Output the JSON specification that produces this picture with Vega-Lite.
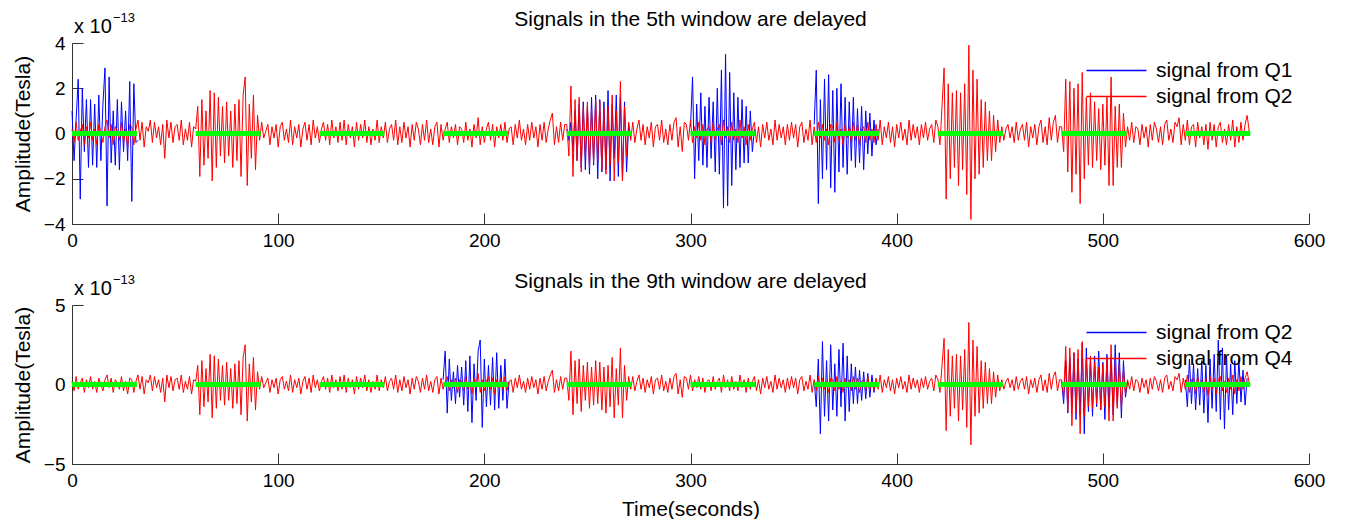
{
"$schema":"https://vega.github.io/schema/vega-lite/v6.json",
"background":"white",
"padding":{"left":12,"top":9,"right":0,"bottom":0},
"spacing":21,
"config":{
 "font":"Liberation Sans",
 "view":{"stroke":null},
 "axis":{"grid":false,"domainColor":"#333333","tickColor":"#333333","labelColor":"#000","labelFontSize":19,"titleFontSize":21,"titleFontWeight":"normal","titleColor":"#000","tickSize":-11,"labelPadding":18,"labelFlush":false,"labelOverlap":false},
 "axisY":{"titlePadding":10},
 "axisX":{"titlePadding":8},
 "title":{"fontSize":21,"fontWeight":"normal","color":"#000","offset":-18}
},
"resolve":{"scale":{"color":"independent","y":"independent"},"legend":{"color":"independent"}},
"datasets":{
"win":[{"s":0,"e":31.5},{"s":60,"e":91.5},{"s":120,"e":151.5},{"s":180,"e":211.5},{"s":240,"e":271.5},{"s":300,"e":331.5},{"s":360,"e":391.5},{"s":420,"e":451.5},{"s":480,"e":511.5},{"s":540,"e":571.5}],
"blue1":[
{"t":0,"a":1.0},{"t":1,"a":-1.2},{"t":2,"a":0.6},{"t":3,"a":2.4},{"t":4,"a":-2.9},{"t":5,"a":2.0},{"t":6,"a":-0.8},{"t":7,"a":1.5},{"t":8,"a":-1.5},{"t":9,"a":1.5},{"t":10,"a":-1.4},{"t":11,"a":1.3},{"t":12,"a":-1.5},{"t":13,"a":1.7},{"t":14,"a":-1.2},{"t":15,"a":1.3},{"t":16,"a":2.9},{"t":17,"a":-3.2},{"t":18,"a":2.5},{"t":19,"a":-1.3},{"t":20,"a":1.0},{"t":21,"a":-1.4},{"t":22,"a":1.5},{"t":23,"a":-1.6},{"t":24,"a":1.4},{"t":25,"a":-0.8},{"t":26,"a":1.0},{"t":27,"a":-1.2},{"t":28,"a":2.3},{"t":29,"a":-3.0},{"t":30,"a":2.2},{"t":31,"a":-0.4},{"t":32,"a":-0.3},{"t":100,"a":null},
{"t":240,"a":0.2},{"t":241,"a":-0.3},{"t":242,"a":0.5},{"t":243,"a":-0.8},{"t":244,"a":1.0},{"t":245,"a":-1.2},{"t":246,"a":1.3},{"t":247,"a":-1.5},{"t":248,"a":1.4},{"t":249,"a":-1.6},{"t":250,"a":1.2},{"t":251,"a":-1.8},{"t":252,"a":1.6},{"t":253,"a":-1.4},{"t":254,"a":1.7},{"t":255,"a":-2.0},{"t":256,"a":1.5},{"t":257,"a":-1.7},{"t":258,"a":1.4},{"t":259,"a":-1.6},{"t":260,"a":1.9},{"t":261,"a":-2.1},{"t":262,"a":1.3},{"t":263,"a":-1.1},{"t":264,"a":1.7},{"t":265,"a":-1.9},{"t":266,"a":1.6},{"t":267,"a":-2.0},{"t":268,"a":1.4},{"t":269,"a":-1.7},{"t":270,"a":0.4},{"t":271,"a":-0.2},{"t":285,"a":null},
{"t":300,"a":0.3},{"t":301,"a":2.5},{"t":302,"a":-2.0},{"t":303,"a":1.3},{"t":304,"a":-1.2},{"t":305,"a":1.8},{"t":306,"a":-1.4},{"t":307,"a":1.2},{"t":308,"a":-1.5},{"t":309,"a":1.6},{"t":310,"a":-1.1},{"t":311,"a":1.4},{"t":312,"a":-1.7},{"t":313,"a":2.0},{"t":314,"a":-1.8},{"t":315,"a":2.8},{"t":316,"a":-3.3},{"t":317,"a":3.5},{"t":318,"a":-3.2},{"t":319,"a":2.7},{"t":320,"a":-2.3},{"t":321,"a":1.8},{"t":322,"a":-1.6},{"t":323,"a":1.6},{"t":324,"a":-1.5},{"t":325,"a":1.5},{"t":326,"a":-1.3},{"t":327,"a":1.2},{"t":328,"a":-1.3},{"t":329,"a":1.0},{"t":330,"a":-0.8},{"t":331,"a":0.2},{"t":345,"a":null},
{"t":360,"a":0.4},{"t":361,"a":2.8},{"t":362,"a":-3.1},{"t":363,"a":1.5},{"t":364,"a":-2.0},{"t":365,"a":2.4},{"t":366,"a":-1.6},{"t":367,"a":2.6},{"t":368,"a":-2.4},{"t":369,"a":1.9},{"t":370,"a":-2.6},{"t":371,"a":2.0},{"t":372,"a":-1.7},{"t":373,"a":2.2},{"t":374,"a":-1.5},{"t":375,"a":1.6},{"t":376,"a":-1.8},{"t":377,"a":1.4},{"t":378,"a":-1.2},{"t":379,"a":1.6},{"t":380,"a":-1.5},{"t":381,"a":1.1},{"t":382,"a":-1.3},{"t":383,"a":1.2},{"t":384,"a":-1.6},{"t":385,"a":1.0},{"t":386,"a":-0.9},{"t":387,"a":0.9},{"t":388,"a":-1.0},{"t":389,"a":0.6},{"t":390,"a":-0.5},{"t":391,"a":0.2}
],
"blue2":[
{"t":180,"a":0.3},{"t":181,"a":2.1},{"t":182,"a":-1.8},{"t":183,"a":1.6},{"t":184,"a":-1.0},{"t":185,"a":0.8},{"t":186,"a":-1.2},{"t":187,"a":1.2},{"t":188,"a":-0.8},{"t":189,"a":1.1},{"t":190,"a":-1.3},{"t":191,"a":1.5},{"t":192,"a":-1.7},{"t":193,"a":1.8},{"t":194,"a":-2.4},{"t":195,"a":1.3},{"t":196,"a":-1.0},{"t":197,"a":2.1},{"t":198,"a":2.8},{"t":199,"a":-2.7},{"t":200,"a":1.6},{"t":201,"a":-1.4},{"t":202,"a":1.2},{"t":203,"a":-1.3},{"t":204,"a":1.7},{"t":205,"a":-1.6},{"t":206,"a":2.0},{"t":207,"a":-1.5},{"t":208,"a":1.2},{"t":209,"a":-1.0},{"t":210,"a":1.6},{"t":211,"a":-1.5},{"t":212,"a":0.2},{"t":300,"a":null},
{"t":360,"a":0.3},{"t":361,"a":-1.4},{"t":362,"a":1.6},{"t":363,"a":-3.1},{"t":364,"a":2.7},{"t":365,"a":-2.0},{"t":366,"a":1.5},{"t":367,"a":-2.3},{"t":368,"a":2.5},{"t":369,"a":-1.6},{"t":370,"a":1.3},{"t":371,"a":-2.0},{"t":372,"a":2.2},{"t":373,"a":-1.4},{"t":374,"a":2.6},{"t":375,"a":-2.3},{"t":376,"a":1.8},{"t":377,"a":-1.7},{"t":378,"a":1.3},{"t":379,"a":-1.2},{"t":380,"a":1.1},{"t":381,"a":-1.2},{"t":382,"a":0.9},{"t":383,"a":-1.0},{"t":384,"a":0.8},{"t":385,"a":-0.9},{"t":386,"a":0.7},{"t":387,"a":-0.8},{"t":388,"a":0.6},{"t":389,"a":-0.5},{"t":390,"a":0.3},{"t":440,"a":null},
{"t":480,"a":0.2},{"t":481,"a":-1.2},{"t":482,"a":1.5},{"t":483,"a":-1.8},{"t":484,"a":1.7},{"t":485,"a":-1.4},{"t":486,"a":2.0},{"t":487,"a":-2.2},{"t":488,"a":1.6},{"t":489,"a":-1.9},{"t":490,"a":2.6},{"t":491,"a":-3.1},{"t":492,"a":2.3},{"t":493,"a":-1.7},{"t":494,"a":1.5},{"t":495,"a":-2.0},{"t":496,"a":1.8},{"t":497,"a":-1.4},{"t":498,"a":2.1},{"t":499,"a":-1.6},{"t":500,"a":1.4},{"t":501,"a":-2.2},{"t":502,"a":1.9},{"t":503,"a":-1.5},{"t":504,"a":1.7},{"t":505,"a":-1.9},{"t":506,"a":2.5},{"t":507,"a":-1.3},{"t":508,"a":2.0},{"t":509,"a":-2.1},{"t":510,"a":1.5},{"t":511,"a":-0.8},{"t":512,"a":0.2},{"t":525,"a":null},
{"t":540,"a":0.3},{"t":541,"a":-1.4},{"t":542,"a":1.6},{"t":543,"a":-1.2},{"t":544,"a":1.3},{"t":545,"a":-1.6},{"t":546,"a":1.0},{"t":547,"a":-1.3},{"t":548,"a":1.5},{"t":549,"a":-1.8},{"t":550,"a":1.2},{"t":551,"a":-2.4},{"t":552,"a":1.6},{"t":553,"a":-1.5},{"t":554,"a":1.9},{"t":555,"a":-1.7},{"t":556,"a":2.8},{"t":557,"a":-2.2},{"t":558,"a":2.3},{"t":559,"a":-2.8},{"t":560,"a":1.8},{"t":561,"a":-1.6},{"t":562,"a":1.3},{"t":563,"a":-1.9},{"t":564,"a":1.5},{"t":565,"a":-1.2},{"t":566,"a":1.6},{"t":567,"a":-1.1},{"t":568,"a":0.9},{"t":569,"a":-1.3},{"t":570,"a":0.4}
],
"red":[
{"t":0,"a":0.2},{"t":1,"a":-0.4},{"t":2,"a":0.5},{"t":3,"a":-0.3},{"t":4,"a":0.1},{"t":5,"a":0.4},{"t":6,"a":-0.5},{"t":7,"a":0.3},{"t":8,"a":-0.2},{"t":9,"a":0.5},
{"t":10,"a":-0.3},{"t":11,"a":0.2},{"t":12,"a":-0.5},{"t":13,"a":0.4},{"t":14,"a":0.0},{"t":15,"a":-0.4},{"t":16,"a":0.3},{"t":17,"a":0.6},{"t":18,"a":-0.2},{"t":19,"a":0.4},
{"t":20,"a":-0.5},{"t":21,"a":0.3},{"t":22,"a":0.1},{"t":23,"a":-0.3},{"t":24,"a":0.5},{"t":25,"a":-0.4},{"t":26,"a":0.2},{"t":27,"a":-0.6},{"t":28,"a":0.4},{"t":29,"a":0.3},
{"t":30,"a":-0.5},{"t":31,"a":0.2},{"t":32,"a":0.6},{"t":33,"a":-0.3},{"t":34,"a":0.5},{"t":35,"a":-0.6},{"t":36,"a":0.3},{"t":37,"a":0.1},{"t":38,"a":0.6},{"t":39,"a":-0.4},
{"t":40,"a":0.5},{"t":41,"a":-0.2},{"t":42,"a":0.3},{"t":43,"a":-0.5},{"t":44,"a":0.4},{"t":45,"a":-1.1},{"t":46,"a":0.6},{"t":47,"a":-0.2},{"t":48,"a":0.5},{"t":49,"a":-0.4},
{"t":50,"a":0.3},{"t":51,"a":0.4},{"t":52,"a":-0.3},{"t":53,"a":0.6},{"t":54,"a":-0.5},{"t":55,"a":0.2},{"t":56,"a":-0.3},{"t":57,"a":0.5},{"t":58,"a":-0.6},{"t":59,"a":0.3},
{"t":60,"a":0.2},{"t":61,"a":1.2},{"t":62,"a":-1.9},{"t":63,"a":1.5},{"t":64,"a":-1.4},{"t":65,"a":1.0},{"t":66,"a":-1.1},{"t":67,"a":1.9},{"t":68,"a":-2.1},{"t":69,"a":1.8},
{"t":70,"a":-1.5},{"t":71,"a":1.6},{"t":72,"a":-1.0},{"t":73,"a":1.2},{"t":74,"a":-1.3},{"t":75,"a":1.4},{"t":76,"a":-1.0},{"t":77,"a":1.0},{"t":78,"a":-1.5},{"t":79,"a":1.3},
{"t":80,"a":-1.2},{"t":81,"a":1.5},{"t":82,"a":-1.9},{"t":83,"a":1.7},{"t":84,"a":2.5},{"t":85,"a":-2.3},{"t":86,"a":1.3},{"t":87,"a":-1.1},{"t":88,"a":1.7},{"t":89,"a":-1.6},
{"t":90,"a":0.8},{"t":91,"a":-0.3},{"t":92,"a":0.5},{"t":93,"a":-0.2},{"t":94,"a":0.1},{"t":95,"a":0.4},{"t":96,"a":-0.5},{"t":97,"a":0.3},{"t":98,"a":-0.2},{"t":99,"a":0.4},
{"t":100,"a":-0.6},{"t":101,"a":0.3},{"t":102,"a":0.5},{"t":103,"a":-0.3},{"t":104,"a":0.2},{"t":105,"a":-0.4},{"t":106,"a":0.6},{"t":107,"a":-0.5},{"t":108,"a":0.3},{"t":109,"a":-0.2},
{"t":110,"a":0.4},{"t":111,"a":-0.6},{"t":112,"a":0.2},{"t":113,"a":0.5},{"t":114,"a":-0.3},{"t":115,"a":0.4},{"t":116,"a":-0.5},{"t":117,"a":0.6},{"t":118,"a":-0.2},{"t":119,"a":0.3},
{"t":120,"a":-0.4},{"t":121,"a":0.2},{"t":122,"a":0.5},{"t":123,"a":-0.3},{"t":124,"a":0.4},{"t":125,"a":-0.5},{"t":126,"a":0.6},{"t":127,"a":-0.2},{"t":128,"a":0.3},{"t":129,"a":-0.4},
{"t":130,"a":0.5},{"t":131,"a":-0.3},{"t":132,"a":0.6},{"t":133,"a":-0.5},{"t":134,"a":0.4},{"t":135,"a":-0.2},{"t":136,"a":0.3},{"t":137,"a":-0.6},{"t":138,"a":0.5},{"t":139,"a":-0.3},
{"t":140,"a":0.4},{"t":141,"a":-0.2},{"t":142,"a":0.6},{"t":143,"a":-0.4},{"t":144,"a":0.3},{"t":145,"a":-0.5},{"t":146,"a":0.2},{"t":147,"a":-0.3},{"t":148,"a":0.6},{"t":149,"a":-0.4},
{"t":150,"a":0.3},{"t":151,"a":-0.2},{"t":152,"a":0.5},{"t":153,"a":-0.4},{"t":154,"a":0.2},{"t":155,"a":0.4},{"t":156,"a":-0.3},{"t":157,"a":0.6},{"t":158,"a":-0.5},{"t":159,"a":0.3},
{"t":160,"a":-0.4},{"t":161,"a":0.5},{"t":162,"a":-0.2},{"t":163,"a":0.3},{"t":164,"a":-0.6},{"t":165,"a":0.4},{"t":166,"a":-0.3},{"t":167,"a":0.5},{"t":168,"a":0.2},{"t":169,"a":-0.5},
{"t":170,"a":0.4},{"t":171,"a":-0.3},{"t":172,"a":0.6},{"t":173,"a":-0.4},{"t":174,"a":0.2},{"t":175,"a":-0.5},{"t":176,"a":0.3},{"t":177,"a":0.5},{"t":178,"a":-0.6},{"t":179,"a":0.4},
{"t":180,"a":-0.3},{"t":181,"a":0.2},{"t":182,"a":0.5},{"t":183,"a":-0.4},{"t":184,"a":0.3},{"t":185,"a":-0.2},{"t":186,"a":0.4},{"t":187,"a":-0.5},{"t":188,"a":0.3},{"t":189,"a":0.2},
{"t":190,"a":-0.4},{"t":191,"a":0.5},{"t":192,"a":-0.3},{"t":193,"a":0.2},{"t":194,"a":-0.6},{"t":195,"a":0.4},{"t":196,"a":-0.2},{"t":197,"a":0.7},{"t":198,"a":-0.5},{"t":199,"a":0.3},
{"t":200,"a":-0.4},{"t":201,"a":0.2},{"t":202,"a":0.5},{"t":203,"a":-0.3},{"t":204,"a":0.4},{"t":205,"a":-0.6},{"t":206,"a":0.3},{"t":207,"a":-0.2},{"t":208,"a":0.4},{"t":209,"a":-0.3},
{"t":210,"a":0.5},{"t":211,"a":-0.4},{"t":212,"a":0.2},{"t":213,"a":0.3},{"t":214,"a":-0.5},{"t":215,"a":0.4},{"t":216,"a":-0.2},{"t":217,"a":0.6},{"t":218,"a":-0.3},{"t":219,"a":0.2},
{"t":220,"a":-0.5},{"t":221,"a":0.4},{"t":222,"a":-0.3},{"t":223,"a":0.5},{"t":224,"a":-0.2},{"t":225,"a":0.3},{"t":226,"a":-0.6},{"t":227,"a":0.4},{"t":228,"a":-0.3},{"t":229,"a":0.5},
{"t":230,"a":-0.4},{"t":231,"a":0.2},{"t":232,"a":0.6},{"t":233,"a":0.9},{"t":234,"a":-0.5},{"t":235,"a":0.3},{"t":236,"a":-0.4},{"t":237,"a":0.5},{"t":238,"a":-0.3},{"t":239,"a":0.4},
{"t":240,"a":0.4},{"t":241,"a":-1.0},{"t":242,"a":2.1},{"t":243,"a":-1.9},{"t":244,"a":1.5},{"t":245,"a":-1.2},{"t":246,"a":1.6},{"t":247,"a":-1.7},{"t":248,"a":1.2},{"t":249,"a":-1.0},
{"t":250,"a":1.4},{"t":251,"a":-1.5},{"t":252,"a":1.1},{"t":253,"a":-1.3},{"t":254,"a":1.5},{"t":255,"a":-1.2},{"t":256,"a":1.4},{"t":257,"a":-1.6},{"t":258,"a":1.1},{"t":259,"a":-1.8},
{"t":260,"a":1.2},{"t":261,"a":-1.4},{"t":262,"a":1.7},{"t":263,"a":-2.1},{"t":264,"a":1.0},{"t":265,"a":-1.3},{"t":266,"a":2.3},{"t":267,"a":-2.1},{"t":268,"a":1.2},{"t":269,"a":-1.0},
{"t":270,"a":0.5},{"t":271,"a":-0.3},{"t":272,"a":0.5},{"t":273,"a":-0.4},{"t":274,"a":0.2},{"t":275,"a":0.6},{"t":276,"a":-0.3},{"t":277,"a":0.4},{"t":278,"a":-0.5},{"t":279,"a":0.3},
{"t":280,"a":-0.2},{"t":281,"a":0.5},{"t":282,"a":-0.6},{"t":283,"a":0.3},{"t":284,"a":0.4},{"t":285,"a":-0.3},{"t":286,"a":0.6},{"t":287,"a":-0.4},{"t":288,"a":0.2},{"t":289,"a":-0.5},
{"t":290,"a":0.4},{"t":291,"a":-0.3},{"t":292,"a":0.5},{"t":293,"a":0.7},{"t":294,"a":-0.6},{"t":295,"a":0.3},{"t":296,"a":-0.8},{"t":297,"a":0.5},{"t":298,"a":0.4},{"t":299,"a":-0.3},
{"t":300,"a":0.6},{"t":301,"a":-0.4},{"t":302,"a":0.3},{"t":303,"a":-0.2},{"t":304,"a":0.5},{"t":305,"a":-0.3},{"t":306,"a":0.4},{"t":307,"a":-0.5},{"t":308,"a":0.2},{"t":309,"a":0.3},
{"t":310,"a":-0.4},{"t":311,"a":0.5},{"t":312,"a":-0.3},{"t":313,"a":0.2},{"t":314,"a":0.4},{"t":315,"a":-0.5},{"t":316,"a":0.6},{"t":317,"a":-0.2},{"t":318,"a":0.3},{"t":319,"a":-0.4},
{"t":320,"a":0.5},{"t":321,"a":-0.3},{"t":322,"a":0.2},{"t":323,"a":-0.4},{"t":324,"a":0.6},{"t":325,"a":-0.2},{"t":326,"a":0.3},{"t":327,"a":-0.5},{"t":328,"a":0.4},{"t":329,"a":-0.3},
{"t":330,"a":0.2},{"t":331,"a":0.5},{"t":332,"a":-0.4},{"t":333,"a":0.3},{"t":334,"a":-0.6},{"t":335,"a":0.4},{"t":336,"a":-0.2},{"t":337,"a":0.5},{"t":338,"a":-0.3},{"t":339,"a":0.2},
{"t":340,"a":-0.5},{"t":341,"a":0.6},{"t":342,"a":-0.3},{"t":343,"a":0.4},{"t":344,"a":-0.2},{"t":345,"a":0.3},{"t":346,"a":-0.5},{"t":347,"a":0.4},{"t":348,"a":-0.3},{"t":349,"a":0.5},
{"t":350,"a":-0.2},{"t":351,"a":0.4},{"t":352,"a":-0.6},{"t":353,"a":0.3},{"t":354,"a":0.5},{"t":355,"a":-0.4},{"t":356,"a":0.2},{"t":357,"a":-0.3},{"t":358,"a":0.6},{"t":359,"a":-0.5},
{"t":360,"a":0.3},{"t":361,"a":-0.4},{"t":362,"a":0.5},{"t":363,"a":-0.2},{"t":364,"a":0.4},{"t":365,"a":-0.3},{"t":366,"a":0.2},{"t":367,"a":-0.5},{"t":368,"a":0.4},{"t":369,"a":0.3},
{"t":370,"a":-0.4},{"t":371,"a":0.5},{"t":372,"a":-0.3},{"t":373,"a":0.2},{"t":374,"a":-0.5},{"t":375,"a":0.4},{"t":376,"a":-0.2},{"t":377,"a":0.3},{"t":378,"a":-0.4},{"t":379,"a":0.5},
{"t":380,"a":-0.3},{"t":381,"a":0.4},{"t":382,"a":-0.5},{"t":383,"a":0.2},{"t":384,"a":0.3},{"t":385,"a":-0.4},{"t":386,"a":0.5},{"t":387,"a":-0.3},{"t":388,"a":0.2},{"t":389,"a":-0.4},
{"t":390,"a":0.4},{"t":391,"a":-0.3},{"t":392,"a":0.6},{"t":393,"a":-0.5},{"t":394,"a":0.3},{"t":395,"a":-0.2},{"t":396,"a":0.5},{"t":397,"a":-0.4},{"t":398,"a":0.3},{"t":399,"a":-0.6},
{"t":400,"a":0.4},{"t":401,"a":-0.2},{"t":402,"a":0.5},{"t":403,"a":-0.3},{"t":404,"a":0.2},{"t":405,"a":-0.5},{"t":406,"a":0.6},{"t":407,"a":-0.3},{"t":408,"a":0.4},{"t":409,"a":-0.2},
{"t":410,"a":0.3},{"t":411,"a":-0.5},{"t":412,"a":0.4},{"t":413,"a":-0.2},{"t":414,"a":0.5},{"t":415,"a":-0.3},{"t":416,"a":0.2},{"t":417,"a":0.4},{"t":418,"a":-0.4},{"t":419,"a":0.6},
{"t":420,"a":0.3},{"t":421,"a":-0.5},{"t":422,"a":1.2},{"t":423,"a":2.9},{"t":424,"a":-2.9},{"t":425,"a":2.2},{"t":426,"a":-2.0},{"t":427,"a":1.8},{"t":428,"a":-1.5},{"t":429,"a":1.9},
{"t":430,"a":-2.3},{"t":431,"a":1.8},{"t":432,"a":-1.6},{"t":433,"a":2.2},{"t":434,"a":-2.7},{"t":435,"a":3.9},{"t":436,"a":-3.8},{"t":437,"a":2.8},{"t":438,"a":-2.0},{"t":439,"a":2.4},
{"t":440,"a":-1.8},{"t":441,"a":1.5},{"t":442,"a":-1.5},{"t":443,"a":1.4},{"t":444,"a":-1.2},{"t":445,"a":1.0},{"t":446,"a":-1.2},{"t":447,"a":0.8},{"t":448,"a":-0.8},{"t":449,"a":0.6},
{"t":450,"a":-0.4},{"t":451,"a":0.3},{"t":452,"a":-0.3},{"t":453,"a":0.2},{"t":454,"a":0.4},{"t":455,"a":-0.2},{"t":456,"a":0.3},{"t":457,"a":-0.4},{"t":458,"a":0.5},{"t":459,"a":-0.3},
{"t":460,"a":0.2},{"t":461,"a":0.4},{"t":462,"a":-0.3},{"t":463,"a":0.5},{"t":464,"a":-0.6},{"t":465,"a":0.3},{"t":466,"a":-0.2},{"t":467,"a":0.4},{"t":468,"a":-0.5},{"t":469,"a":0.3},
{"t":470,"a":0.6},{"t":471,"a":-0.4},{"t":472,"a":0.3},{"t":473,"a":-0.5},{"t":474,"a":0.7},{"t":475,"a":-0.3},{"t":476,"a":0.5},{"t":477,"a":0.8},{"t":478,"a":-0.4},{"t":479,"a":0.3},
{"t":480,"a":0.3},{"t":481,"a":-0.8},{"t":482,"a":2.4},{"t":483,"a":-1.7},{"t":484,"a":2.3},{"t":485,"a":-2.6},{"t":486,"a":2.0},{"t":487,"a":-1.8},{"t":488,"a":2.2},{"t":489,"a":-3.1},
{"t":490,"a":2.7},{"t":491,"a":-2.0},{"t":492,"a":1.6},{"t":493,"a":-1.4},{"t":494,"a":1.8},{"t":495,"a":-1.5},{"t":496,"a":1.4},{"t":497,"a":-1.2},{"t":498,"a":1.1},{"t":499,"a":-1.6},
{"t":500,"a":1.3},{"t":501,"a":-1.4},{"t":502,"a":1.6},{"t":503,"a":-2.3},{"t":504,"a":2.5},{"t":505,"a":-2.3},{"t":506,"a":1.2},{"t":507,"a":-1.5},{"t":508,"a":1.3},{"t":509,"a":-1.5},
{"t":510,"a":0.9},{"t":511,"a":-0.6},{"t":512,"a":0.3},{"t":513,"a":-0.3},{"t":514,"a":0.5},{"t":515,"a":-0.4},{"t":516,"a":0.3},{"t":517,"a":0.2},{"t":518,"a":-0.5},{"t":519,"a":0.4},
{"t":520,"a":-0.2},{"t":521,"a":0.3},{"t":522,"a":-0.6},{"t":523,"a":0.4},{"t":524,"a":-0.3},{"t":525,"a":0.5},{"t":526,"a":0.2},{"t":527,"a":-0.4},{"t":528,"a":0.3},{"t":529,"a":-0.5},
{"t":530,"a":0.4},{"t":531,"a":0.6},{"t":532,"a":-0.3},{"t":533,"a":0.2},{"t":534,"a":-0.4},{"t":535,"a":0.5},{"t":536,"a":0.3},{"t":537,"a":0.7},{"t":538,"a":-0.5},{"t":539,"a":0.4},
{"t":540,"a":-0.3},{"t":541,"a":0.6},{"t":542,"a":-0.5},{"t":543,"a":0.3},{"t":544,"a":0.4},{"t":545,"a":-0.6},{"t":546,"a":0.5},{"t":547,"a":-0.2},{"t":548,"a":0.3},{"t":549,"a":-0.5},
{"t":550,"a":0.4},{"t":551,"a":-0.7},{"t":552,"a":0.5},{"t":553,"a":-0.3},{"t":554,"a":0.4},{"t":555,"a":-0.6},{"t":556,"a":0.3},{"t":557,"a":0.5},{"t":558,"a":-0.4},{"t":559,"a":0.2},
{"t":560,"a":-0.5},{"t":561,"a":0.4},{"t":562,"a":-0.3},{"t":563,"a":0.6},{"t":564,"a":-0.6},{"t":565,"a":0.3},{"t":566,"a":-0.4},{"t":567,"a":0.5},{"t":568,"a":-0.3},{"t":569,"a":0.4},
{"t":570,"a":0.8},{"t":571,"a":0.1}
]
},
"vconcat":[
{
 "width":1237,"height":181,
 "title":"Signals in the 5th window are delayed",
 "layer":[
  {"data":{"name":"blue1"},"mark":{"type":"line","strokeWidth":1,"invalid":"break-paths-filter-domains"},
   "encoding":{
    "x":{"field":"t","type":"quantitative","scale":{"domain":[0,600],"nice":false,"zero":false},"axis":{"values":[0,100,200,300,400,500,600],"title":null}},
    "y":{"field":"a","type":"quantitative","scale":{"domain":[-4,4],"nice":false},"axis":{"values":[-4,-2,0,2,4],"title":"Amplitude(Tesla)"}},
    "color":{"datum":"signal from Q1","type":"nominal","scale":{"domain":["signal from Q1","signal from Q2"],"range":["#0000ff","#ff0000"]},
     "legend":{"title":null,"orient":"none","legendX":1059,"legendY":17,"symbolType":"M-11,0H1","symbolSize":100,"labelFontSize":21,"labelOffset":4,"rowPadding":4,"padding":0,"labelColor":"#000",
      "encode":{"symbols":{"update":{"stroke":{"signal":"indexof(datum.label,'Q1')>=0 ? '#3030ff' : '#ff2020'"},"strokeWidth":{"value":1.4}}}}}}
   }},
  {"data":{"name":"red"},"mark":{"type":"line","strokeWidth":1},
   "encoding":{"x":{"field":"t","type":"quantitative"},"y":{"field":"a","type":"quantitative"},"color":{"datum":"signal from Q2","type":"nominal"}}},
  {"data":{"name":"win"},"mark":{"type":"rule","color":"#00ff00","strokeWidth":5},
   "encoding":{"x":{"field":"s","type":"quantitative"},"x2":{"field":"e"},"y":{"datum":0}}},
  {"data":{"values":[{}]},"mark":{"type":"text","text":"x 10","align":"left","baseline":"alphabetic","dx":2,"dy":-10,"fontSize":20,"color":"#000"},
   "encoding":{"x":{"datum":0},"y":{"datum":4}}},
  {"data":{"values":[{}]},"mark":{"type":"text","text":"−13","align":"left","baseline":"alphabetic","dx":41,"dy":-21,"fontSize":13,"color":"#000"},
   "encoding":{"x":{"datum":0},"y":{"datum":4}}}
 ]
},
{
 "width":1237,"height":159,
 "title":"Signals in the 9th window are delayed",
 "layer":[
  {"data":{"name":"blue2"},"mark":{"type":"line","strokeWidth":1,"invalid":"break-paths-filter-domains"},
   "encoding":{
    "x":{"field":"t","type":"quantitative","scale":{"domain":[0,600],"nice":false,"zero":false},"axis":{"values":[0,100,200,300,400,500,600],"title":"Time(seconds)"}},
    "y":{"field":"a","type":"quantitative","scale":{"domain":[-5,5],"nice":false},"axis":{"values":[-5,0,5],"title":"Amplitude(Tesla)"}},
    "color":{"datum":"signal from Q2","type":"nominal","scale":{"domain":["signal from Q2","signal from Q4"],"range":["#0000ff","#ff0000"]},
     "legend":{"title":null,"orient":"none","legendX":1059,"legendY":17,"symbolType":"M-11,0H1","symbolSize":100,"labelFontSize":21,"labelOffset":4,"rowPadding":4,"padding":0,"labelColor":"#000",
      "encode":{"symbols":{"update":{"stroke":{"signal":"indexof(datum.label,'Q2')>=0 ? '#3030ff' : '#ff2020'"},"strokeWidth":{"value":1.4}}}}}}
   }},
  {"data":{"name":"red"},"mark":{"type":"line","strokeWidth":1},
   "encoding":{"x":{"field":"t","type":"quantitative"},"y":{"field":"a","type":"quantitative"},"color":{"datum":"signal from Q4","type":"nominal"}}},
  {"data":{"name":"win"},"mark":{"type":"rule","color":"#00ff00","strokeWidth":5},
   "encoding":{"x":{"field":"s","type":"quantitative"},"x2":{"field":"e"},"y":{"datum":0}}},
  {"data":{"values":[{}]},"mark":{"type":"text","text":"x 10","align":"left","baseline":"alphabetic","dx":2,"dy":-10,"fontSize":20,"color":"#000"},
   "encoding":{"x":{"datum":0},"y":{"datum":5}}},
  {"data":{"values":[{}]},"mark":{"type":"text","text":"−13","align":"left","baseline":"alphabetic","dx":41,"dy":-21,"fontSize":13,"color":"#000"},
   "encoding":{"x":{"datum":0},"y":{"datum":5}}}
 ]
}
]
}
